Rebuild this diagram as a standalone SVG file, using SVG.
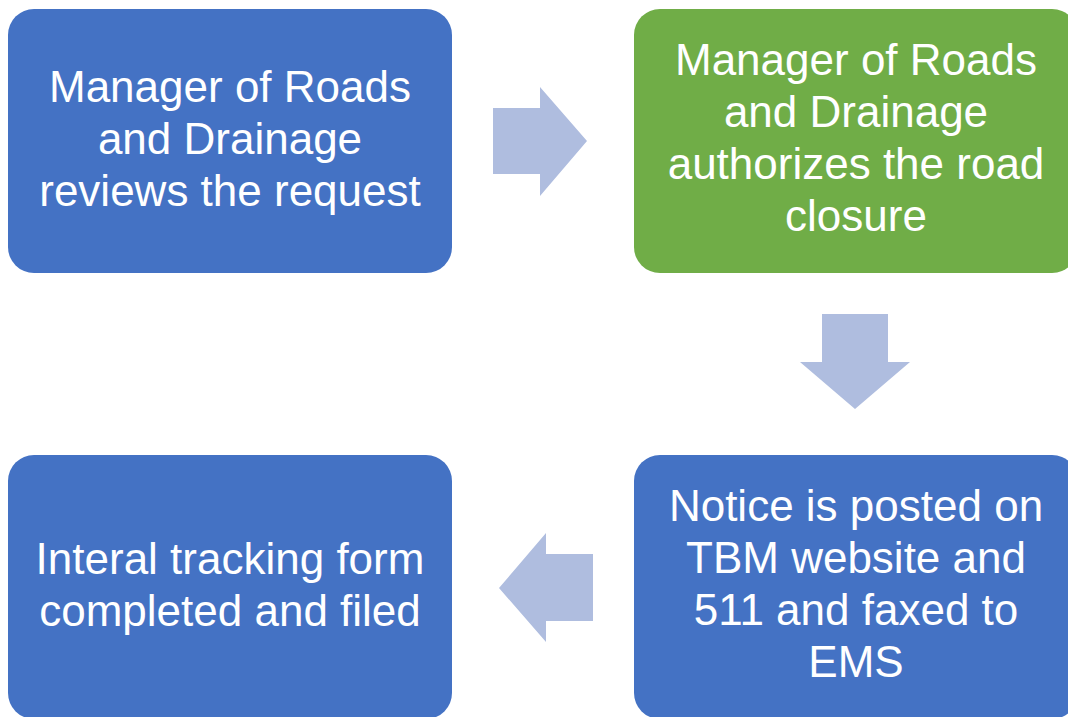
<svg xmlns="http://www.w3.org/2000/svg" width="1068" height="717" viewBox="0 0 1068 717">
<style>
.box{stroke:none}
.blue{fill:#4472C4}
.green{fill:#70AD47}
.arrow{fill:#AFBDDF}
.t{font-family:"Liberation Sans",Arial,sans-serif;font-size:44px;fill:#FFFFFF;text-anchor:middle}
</style>
<rect width="1068" height="717" fill="#FFFFFF"/>
<g id="node1">
<rect class="box blue" x="8" y="9" width="444" height="264" rx="26" ry="26"/>
<text class="t" x="230" y="102">Manager of Roads</text>
<text class="t" x="230" y="154">and Drainage</text>
<text class="t" x="230" y="206">reviews the request</text>
</g>
<g id="node2">
<rect class="box green" x="634" y="9" width="444" height="264" rx="26" ry="26"/>
<text class="t" x="856" y="75">Manager of Roads</text>
<text class="t" x="856" y="127">and Drainage</text>
<text class="t" x="856" y="179">authorizes the road</text>
<text class="t" x="856" y="231">closure</text>
</g>
<g id="node3">
<rect class="box blue" x="634" y="455" width="444" height="264" rx="26" ry="26"/>
<text class="t" x="856" y="521">Notice is posted on</text>
<text class="t" x="856" y="573">TBM website and</text>
<text class="t" x="856" y="625">511 and faxed to</text>
<text class="t" x="856" y="677">EMS</text>
</g>
<g id="node4">
<rect class="box blue" x="8" y="455" width="444" height="264" rx="26" ry="26"/>
<text class="t" x="230" y="574">Interal tracking form</text>
<text class="t" x="230" y="626">completed and filed</text>
</g>
<g id="connectors">
<polygon class="arrow" points="493,108 540,108 540,87 587,141 540,196 540,174 493,174"/>
<polygon class="arrow" points="822,314 888,314 888,362 910,362 855,409 800,362 822,362"/>
<polygon class="arrow" points="593,554 546,554 546,533 499,588 546,642 546,621 593,621"/>
</g>
</svg>
